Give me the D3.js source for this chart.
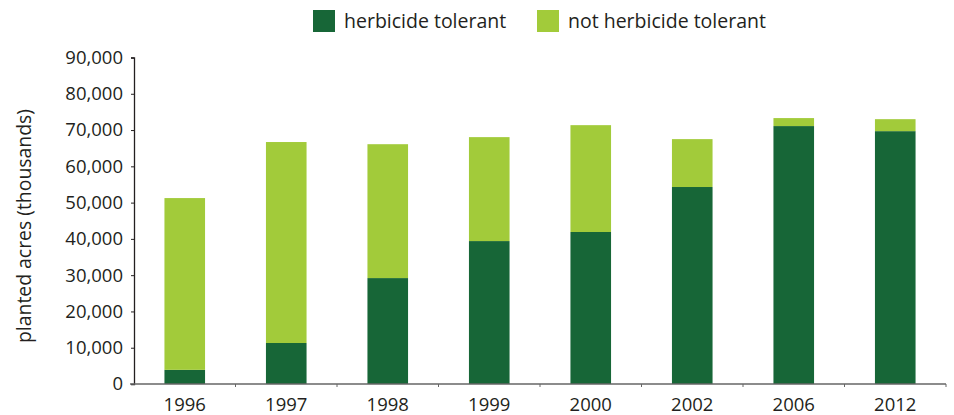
<!DOCTYPE html>
<html>
<head>
<meta charset="utf-8">
<script src="https://cdn.jsdelivr.net/npm/d3@7"></script>
<style>
  body { margin: 0; background: #fff; }
  text { font-family: "Open Sans", sans-serif; fill: #231f20; }
</style>
</head>
<body>
<div id="chart"></div>
<script>
// data
var years = ["1996", "1997", "1998", "1999", "2000", "2002", "2006", "2012"];
var tolerant = [3900, 11300, 29200, 39400, 41900, 54300, 71100, 69700];
var notTolerant = [47350, 55400, 36900, 28650, 29450, 13200, 2200, 3300];
var yTicks = [0, 10000, 20000, 30000, 40000, 50000, 60000, 70000, 80000, 90000];
var seriesNames = ["herbicide tolerant", "not herbicide tolerant"];
var seriesColors = ["#176637", "#a2cb3a"];

var width = 954, height = 415;
var margin = {top: 57.5, right: 8, bottom: 31, left: 134};

var svg = d3.select("#chart").append("svg")
  .attr("width", width)
  .attr("height", height);

var rows = years.map(function(y, i) {
  return {year: y, tolerant: tolerant[i], notTolerant: notTolerant[i]};
});
var stack = d3.stack().keys(["tolerant", "notTolerant"])(rows);

var x = d3.scaleBand()
  .domain(years)
  .range([margin.left, width - margin.right])
  .paddingInner(0.6)
  .paddingOuter(0.3);

var y = d3.scaleLinear()
  .domain([0, 90000])
  .range([height - margin.bottom, margin.top]);

// bars
svg.selectAll("g.series")
  .data(stack)
  .enter().append("g")
  .attr("fill", function(d, i) { return seriesColors[i]; })
  .selectAll("rect")
  .data(function(d) { return d; })
  .enter().append("rect")
  .attr("x", function(d) { return x(d.data.year); })
  .attr("width", x.bandwidth())
  .attr("y", function(d) { return y(d[1]); })
  .attr("height", function(d) { return y(d[0]) - y(d[1]); });

// y axis
var yAxis = svg.append("g")
  .attr("transform", "translate(" + margin.left + ",0)")
  .call(d3.axisLeft(y).tickValues(yTicks).tickFormat(d3.format(",")).tickSizeOuter(0).tickSize(3).tickPadding(8));
yAxis.select(".domain").attr("stroke", "#231f20").attr("stroke-width", 1.3);
yAxis.selectAll(".tick line").attr("stroke", "#231f20");
yAxis.selectAll("text").style("font-size", "18.5px").attr("fill", "#231f20");

// x axis: ticks sit between bands
var xAxis = svg.append("g")
  .attr("transform", "translate(0," + y(0) + ")");
xAxis.append("line")
  .attr("x1", margin.left - 4).attr("x2", width - margin.right)
  .attr("stroke", "#666").attr("stroke-width", 1.5);
var step = x.step();
var bounds = d3.range(years.length + 1).map(function(i) { return margin.left + i * step; });
xAxis.selectAll("line.tk")
  .data(bounds.slice(1))
  .enter().append("line")
  .attr("class", "tk")
  .attr("x1", function(d) { return d; }).attr("x2", function(d) { return d; })
  .attr("y1", 0).attr("y2", 3)
  .attr("stroke", "#666");
xAxis.selectAll("text")
  .data(years)
  .enter().append("text")
  .attr("x", function(d) { return x(d) + x.bandwidth() / 2; })
  .attr("y", 27)
  .attr("text-anchor", "middle")
  .style("font-size", "18.5px")
  .text(function(d) { return d; });

// y label
svg.append("text")
  .attr("transform", "translate(31," + 226 + ") rotate(-90)")
  .attr("text-anchor", "middle")
  .style("font-size", "19.4px")
  .text("planted acres (thousands)");

// legend
var legendX = [313, 537];
var legend = svg.selectAll("g.legend")
  .data(seriesNames)
  .enter().append("g")
  .attr("transform", function(d, i) { return "translate(" + legendX[i] + ",10)"; });
legend.append("rect")
  .attr("width", 22).attr("height", 22)
  .attr("fill", function(d, i) { return seriesColors[i]; });
legend.append("text")
  .attr("x", 31).attr("y", 18)
  .style("font-size", "19.5px")
  .text(function(d) { return d; });
</script>
</body>
</html>
